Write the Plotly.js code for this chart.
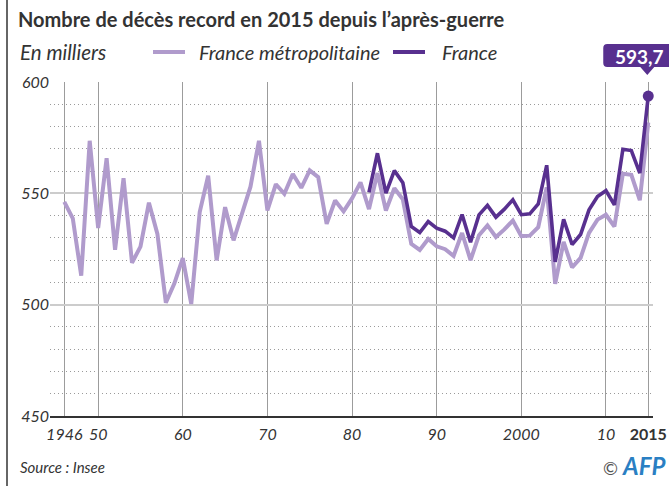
<!DOCTYPE html>
<html>
<head>
<meta charset="utf-8">
<script src="https://cdn.plot.ly/plotly-3.0.1.min.js"></script>
<style>
  html, body { margin: 0; padding: 0; background: #fff; }
  #chart { width: 669px; height: 486px; }
</style>
</head>
<body>
<div id="chart"></div>
<script>
// ---- Data (deaths, thousands) ----
const yearsMetro = [1946,1947,1948,1949,1950,1951,1952,1953,1954,1955,1956,1957,1958,1959,1960,1961,1962,1963,1964,1965,1966,1967,1968,1969,1970,1971,1972,1973,1974,1975,1976,1977,1978,1979,1980,1981,1982,1983,1984,1985,1986,1987,1988,1989,1990,1991,1992,1993,1994,1995,1996,1997,1998,1999,2000,2001,2002,2003,2004,2005,2006,2007,2008,2009,2010,2011,2012,2013,2014,2015];
const deathsMetro = [546.2,538.8,513.0,573.6,534.4,565.8,524.6,556.8,518.8,526.1,545.8,531.8,500.9,509.5,520.9,500.3,541.6,557.9,519.9,543.8,528.9,541.2,553.0,573.6,542.3,554.1,549.8,558.7,552.5,560.3,557.3,536.3,546.8,541.9,547.7,554.9,542.9,559.1,542.3,552.3,547.3,527.3,524.6,529.5,526.2,524.9,521.9,532.2,520.0,531.2,535.6,530.4,533.8,537.8,530.8,531.0,534.8,552.7,509.4,528.2,516.7,521.0,532.2,538.2,540.4,535.1,558.8,558.3,546.9,581.8];
const yearsFrance = [1982,1983,1984,1985,1986,1987,1988,1989,1990,1991,1992,1993,1994,1995,1996,1997,1998,1999,2000,2001,2002,2003,2004,2005,2006,2007,2008,2009,2010,2011,2012,2013,2014,2015];
const deathsFrance = [550.4,568.0,550.1,560.2,554.8,535.1,532.4,537.3,534.4,533.0,530.0,540.5,528.0,540.3,544.6,539.3,542.9,547.1,540.4,540.8,545.2,562.6,519.2,538.3,527.0,531.5,542.6,548.6,551.2,544.8,569.8,569.2,559.1,593.7];
const seriesNames = ["France métropolitaine", "France"];
const xTickVals = [1946,1950,1960,1970,1980,1990,2000,2010,2015];
const xTickText = ["<i>1946</i>","<i>50</i>","<i>60</i>","<i>70</i>","<i>80</i>","<i>90</i>","<i>2000</i>","<i>10</i>","<b>2015</b>"];

// ---- Style ----
const cLight = "#b09bcc";
const cDark = "#58308f";
const fontFam = "Lato, 'Open Sans', sans-serif";
const xRange = [1944.31, 2015.56];
const yRange = [450, 600];

const lastX = yearsFrance[yearsFrance.length - 1];
const lastY = deathsFrance[deathsFrance.length - 1];
const anchorX = (lastX - xRange[0]) / (xRange[1] - xRange[0]);
const anchorY = (lastY - yRange[0]) / (yRange[1] - yRange[0]);

const traces = [
  { x: yearsMetro, y: deathsMetro, name: seriesNames[0], type: "scatter", mode: "lines",
    line: { color: cLight, width: 4, shape: "linear" }, hoverinfo: "x+y" },
  { x: yearsFrance, y: deathsFrance, name: seriesNames[1], type: "scatter", mode: "lines",
    line: { color: cDark, width: 3.6 }, hoverinfo: "x+y" },
  { x: [lastX], y: [lastY], type: "scatter", mode: "markers", showlegend: false,
    marker: { color: cDark, size: 11 }, cliponaxis: false, hoverinfo: "x+y" }
];

const layout = {
  width: 669, height: 486,
  margin: { l: 50, r: 16, t: 82, b: 70, pad: 0 },
  paper_bgcolor: "#fff", plot_bgcolor: "#fff",
  showlegend: false,
  font: { family: fontFam, color: "#333" },
  title: { text: "<b>Nombre de décès record en 2015 depuis l’après-guerre</b>",
    x: 18/669, xref: "container", xanchor: "left",
    y: 1 - 20/486, yref: "container", yanchor: "middle",
    font: { family: fontFam, size: 20, color: "#333" } },
  xaxis: {
    range: xRange, tickmode: "array", tickvals: xTickVals, ticktext: xTickText,
    showgrid: true, gridcolor: "#9c9c9c", gridwidth: 1,
    showline: true, linecolor: "#333", linewidth: 1.5,
    ticks: "", ticklabelstandoff: 3, tickfont: { size: 16, color: "#333" }, zeroline: false,
    fixedrange: true
  },
  yaxis: {
    range: yRange, tickmode: "linear", tick0: 450, dtick: 50,
    showgrid: true, gridcolor: "#cccccc", gridwidth: 2,
    minor: { dtick: 10, tick0: 450, showgrid: true, gridcolor: "#9a9a9a", gridwidth: 1, griddash: "1px,3px" },
    showline: false, ticks: "", zeroline: false,
    tickfont: { size: 16, color: "#333", style: "italic" },
    fixedrange: true
  },
  shapes: [
    // left border of the graphic
    { type: "line", xref: "paper", yref: "paper", x0: -43/603, x1: -43/603, y0: (416 - 486)/334, y1: 416/334,
      line: { color: "#333", width: 1.5 } },
    // legend samples
    { type: "line", xref: "paper", yref: "paper", x0: (153-50)/603, x1: (185-50)/603, y0: (416-52)/334, y1: (416-52)/334,
      line: { color: cLight, width: 4 } },
    { type: "line", xref: "paper", yref: "paper", x0: (393-50)/603, x1: (425-50)/603, y0: (416-52)/334, y1: (416-52)/334,
      line: { color: cDark, width: 4 } },
    // value callout box with pointer
    { type: "path", xref: "paper", yref: "paper", xsizemode: "pixel", ysizemode: "pixel",
      xanchor: anchorX, yanchor: anchorY, layer: "above",
      path: "M -41,52 L 21,52 Q 25,52 25,48 L 25,33 Q 25,29 21,29 L 6,29 L -1,21 L -8,29 L -41,29 Q -45,29 -45,33 L -45,48 Q -45,52 -41,52 Z",
      fillcolor: cDark, line: { width: 0 } }
  ],
  annotations: [
    { text: "<i>En milliers</i>", xref: "paper", yref: "paper", x: (18-50)/603, y: (416-52)/334,
      xanchor: "left", yanchor: "middle", showarrow: false, font: { size: 20.5, color: "#333" } },
    { text: "<i>" + seriesNames[0] + "</i>", xref: "paper", yref: "paper", x: (197-50)/603, y: (416-52)/334,
      xanchor: "left", yanchor: "middle", showarrow: false, font: { size: 20, color: "#333" } },
    { text: "<i>" + seriesNames[1] + "</i>", xref: "paper", yref: "paper", x: (440-50)/603, y: (416-52)/334,
      xanchor: "left", yanchor: "middle", showarrow: false, font: { size: 20, color: "#333" } },
    { text: "<b>" + lastY.toFixed(1).replace(".", ",") + "</b>", x: lastX, y: lastY, xref: "x", yref: "y",
      showarrow: false, xanchor: "center", yanchor: "middle", xshift: -9, yshift: 40,
      font: { size: 19, color: "#fff" } },
    { text: "<i>Source : Insee</i>", xref: "paper", yref: "paper", x: (18-50)/603, y: (416-467)/334,
      xanchor: "left", yanchor: "middle", showarrow: false, font: { size: 15, color: "#333" } },
    { text: "<span style='color:#555;font-size:18px'>©</span> <span style='color:#2a7fc3;font-size:24px'><b><i>AFP</i></b></span>",
      xref: "paper", yref: "paper", x: (667-50)/603, y: (416-465)/334,
      xanchor: "right", yanchor: "middle", showarrow: false, font: { size: 20 } }
  ]
};

Plotly.newPlot("chart", traces, layout, { displayModeBar: false, staticPlot: true });
</script>
</body>
</html>
